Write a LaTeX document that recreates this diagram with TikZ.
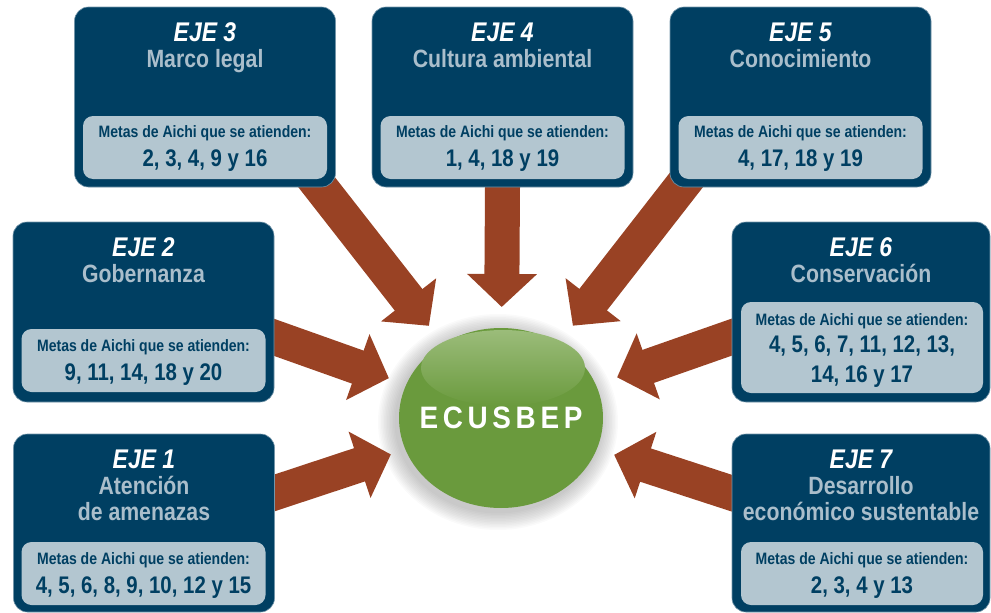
\documentclass[tikz,border=0pt]{standalone}
\usepackage{fontspec}
\setmainfont{Liberation Sans}[FakeStretch=0.85]
\newfontfamily\ecusfont{Liberation Sans}[FakeStretch=0.9,LetterSpace=15]
\usetikzlibrary{arrows.meta,backgrounds,shapes.geometric}

\definecolor{ejeblue}{RGB}{0,63,98}
\definecolor{subgray}{RGB}{170,190,203}
\definecolor{metagray}{RGB}{179,198,208}
\definecolor{arrowred}{RGB}{153,66,36}
\definecolor{ecusgreen}{RGB}{106,154,61}
\definecolor{ecuslight}{RGB}{155,188,122}

\tikzset{
  ejebox/.style={rectangle,rounded corners=14pt,fill=ejeblue,draw=ejeblue!55!white,line width=0.6pt,
                 minimum width=261pt,minimum height=180pt,inner sep=0pt},
  metabox/.style={rectangle,rounded corners=10pt,fill=metagray,minimum width=244pt,minimum height=63pt,inner sep=0pt},
  ejetitle/.style={anchor=base,text=white,font=\fontsize{27}{27}\selectfont\bfseries\itshape},
  ejesub/.style={anchor=base,text=subgray,font=\fontsize{25}{25}\selectfont\bfseries},
  metatext/.style={anchor=base,text=ejeblue,font=\fontsize{16.5}{16.5}\selectfont\bfseries},
  metanum/.style={anchor=base,text=ejeblue,font=\fontsize{24}{24}\selectfont\bfseries},
  ecustext/.style={text=white,font=\ecusfont\fontsize{31}{31}\selectfont\bfseries},
  bigarrow/.style={draw=arrowred,line width=35pt,-{Triangle[length=33pt,width=68pt]},
                   shorten <=-30pt,shorten >=117pt},
}

\begin{document}
\begin{tikzpicture}[x=1pt,y=-1pt]
  \useasboundingbox (0,0) rectangle (991,613);

% top row: ejes 3, 4, 5
  \node[ejebox] (eje3) at (205,97) {};
  \node[metabox] (meta3) at (205,147.5) {};
  \node[ejetitle] (eje3t) at (205,41) {EJE 3};
  \node[ejesub] (eje3s) at (205,67) {Marco legal};
  \node[metatext] (meta3t) at (205,137) {Metas de Aichi que se atienden:};
  \node[metanum] (meta3n) at (205,166) {2, 3, 4, 9 y 16};

  \node[ejebox] (eje4) at (502.5,97) {};
  \node[metabox] (meta4) at (502.5,147.5) {};
  \node[ejetitle] (eje4t) at (502.5,41) {EJE 4};
  \node[ejesub] (eje4s) at (502.5,67) {Cultura ambiental};
  \node[metatext] (meta4t) at (502.5,137) {Metas de Aichi que se atienden:};
  \node[metanum] (meta4n) at (502.5,166) {1, 4, 18 y 19};

  \node[ejebox] (eje5) at (800.5,97) {};
  \node[metabox] (meta5) at (800.5,147.5) {};
  \node[ejetitle] (eje5t) at (800.5,41) {EJE 5};
  \node[ejesub] (eje5s) at (800.5,67) {Conocimiento};
  \node[metatext] (meta5t) at (800.5,137) {Metas de Aichi que se atienden:};
  \node[metanum] (meta5n) at (800.5,166) {4, 17, 18 y 19};

% middle row: ejes 2 and 6
  \node[ejebox] (eje2) at (143.5,312) {};
  \node[metabox] (meta2) at (143.5,360.5) {};
  \node[ejetitle] (eje2t) at (143.5,256) {EJE 2};
  \node[ejesub] (eje2s) at (143.5,282) {Gobernanza};
  \node[metatext] (meta2t) at (143.5,351) {Metas de Aichi que se atienden:};
  \node[metanum] (meta2n) at (143.5,380) {9, 11, 14, 18 y 20};

  \node[ejebox,minimum width=258pt] (eje6) at (861,312) {};
  \node[metabox,minimum width=242pt,minimum height=91pt] (meta6) at (862,347.5) {};
  \node[ejetitle] (eje6t) at (861,256) {EJE 6};
  \node[ejesub] (eje6s) at (861,282) {Conservación};
  \node[metatext] (meta6t) at (862,325) {Metas de Aichi que se atienden:};
  \node[metanum] (meta6n) at (862,352) {4, 5, 6, 7, 11, 12, 13,};
  \node[metanum] (meta6m) at (862,382) {14, 16 y 17};

% bottom row: ejes 1 and 7
  \node[ejebox,minimum height=178pt] (eje1) at (144,523) {};
  \node[metabox] (meta1) at (143.5,573.5) {};
  \node[ejetitle] (eje1t) at (144,468) {EJE 1};
  \node[ejesub] (eje1s) at (144,494) {Atención};
  \node[ejesub] (eje1u) at (144,520) {de amenazas};
  \node[metatext] (meta1t) at (143.5,564) {Metas de Aichi que se atienden:};
  \node[metanum] (meta1n) at (143.5,593) {4, 5, 6, 8, 9, 10, 12 y 15};

  \node[ejebox,minimum width=258pt,minimum height=178pt] (eje7) at (861,523) {};
  \node[metabox,minimum width=242pt] (meta7) at (862,573.5) {};
  \node[ejetitle] (eje7t) at (861,468) {EJE 7};
  \node[ejesub] (eje7s) at (861,494) {Desarrollo};
  \node[ejesub] (eje7u) at (861,520) {económico sustentable};
  \node[metatext] (meta7t) at (862,564) {Metas de Aichi que se atienden:};
  \node[metanum] (meta7n) at (862,593) {2, 3, 4 y 13};

% central strategy
  \node[ellipse,fill=ecusgreen,minimum width=204pt,minimum height=180pt,inner sep=0pt] (ecus) at (501,418) {};
  \shade[top color=ecuslight,bottom color=ecusgreen] (503,368) ellipse (82 and 38);
  \node[ecustext] (ecuslabel) at (ecus.center) {ECUSBEP};

% halo and arrows behind everything
  \begin{scope}[on background layer]
    \foreach \r in {1,...,12}
      \fill[black,opacity=0.02] ([shift={(-3,4)}]ecus.center) ellipse ({102+1.5*\r} and {90+1.5*\r});
    \draw[bigarrow] (eje3.-38) -- (ecus.center);
    \draw[bigarrow,shorten >=111pt] (eje4.south) -- (ecus.center);
    \draw[bigarrow] (eje5.-143) -- (ecus.center);
    \draw[bigarrow,shorten >=119pt] (eje2.-11) -- (ecus.center);
    \draw[bigarrow,shorten >=123pt] (eje6.-169) -- (ecus.center);
    \draw[bigarrow,shorten >=116pt] (eje1.13) -- (ecus.center);
    \draw[bigarrow,shorten >=119pt] (eje7.167) -- (ecus.center);
  \end{scope}
\end{tikzpicture}
\end{document}
